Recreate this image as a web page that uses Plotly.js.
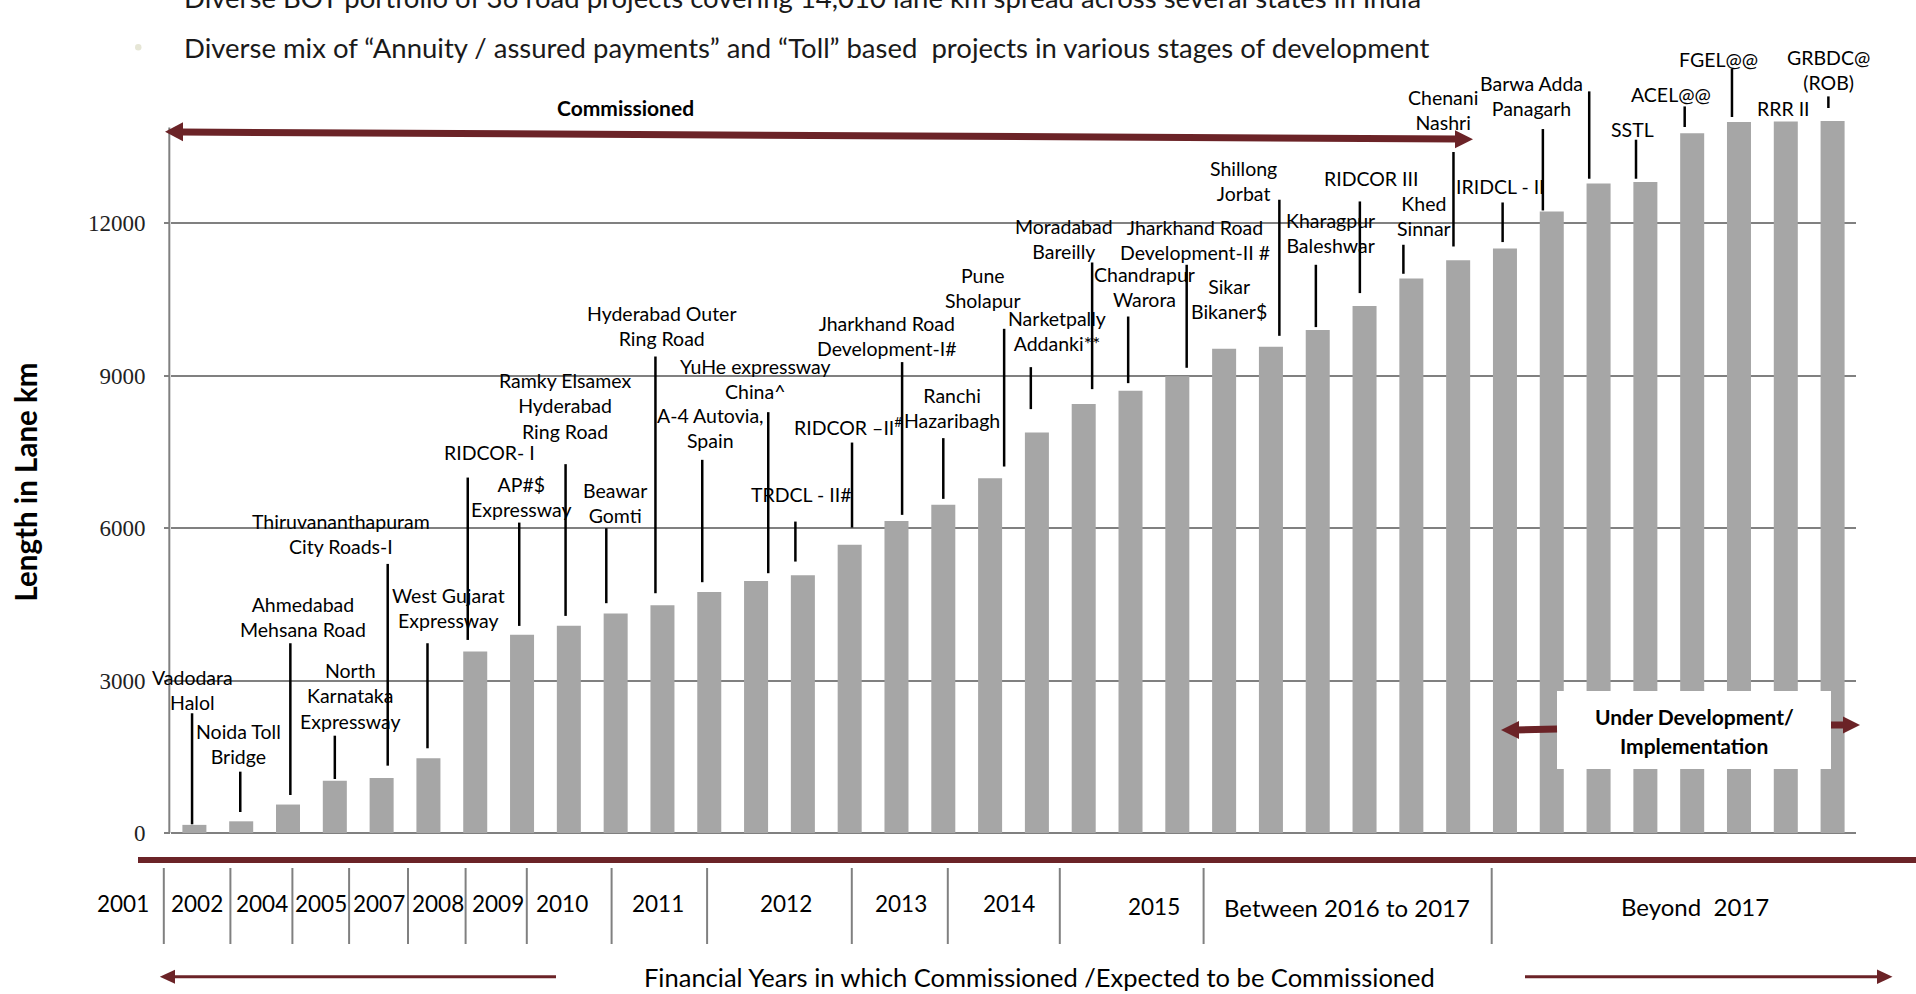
<!DOCTYPE html>
<html><head><meta charset="utf-8">
<script src="https://cdn.plot.ly/plotly-3.0.1.min.js"></script>
<style>html,body{margin:0;padding:0;background:#fff;overflow:hidden}#chart{width:1916px;height:994px}</style>
</head><body><div id="chart"></div>
<script>
// ---------------- DATA ----------------
const projects = [
  'Vadodara<br>Halol','Noida Toll<br>Bridge','Ahmedabad<br>Mehsana Road','North<br>Karnataka<br>Expressway',
  'Thiruvananthapuram<br>City Roads-I','West Gujarat<br>Expressway','RIDCOR- I','AP#$<br>Expressway',
  'Ramky Elsamex<br>Hyderabad<br>Ring Road','Beawar<br>Gomti','Hyderabad Outer<br>Ring Road','A-4 Autovia,<br>Spain',
  'YuHe expressway<br>China^','TRDCL - II#','RIDCOR –II<sup>#</sup>','Jharkhand Road<br>Development-I#',
  'Ranchi<br>Hazaribagh','Pune<br>Sholapur','Narketpally<br>Addanki**','Moradabad<br>Bareilly',
  'Chandrapur<br>Warora','Jharkhand Road<br>Development-II #','Sikar<br>Bikaner$','Shillong<br>Jorbat',
  'Kharagpur<br>Baleshwar','RIDCOR III','Khed<br>Sinnar','Chenani<br>Nashri',
  'IRIDCL - II','Barwa Adda<br>Panagarh','Kiratpur<br>Ner<br>Chowk','SSTL',
  'ACEL@@','FGEL@@','RRR II','GRBDC@<br>(ROB)'
];
const laneKm = [
  160, 230, 560, 1030, 1080, 1470, 3570, 3900, 4080, 4320, 4480, 4740,
  4960, 5070, 5670, 6140, 6460, 6980, 7880, 8440, 8700, 8990, 9530, 9570,
  9900, 10370, 10910, 11270, 11500, 12230, 12780, 12810, 13770, 13990, 14000, 14010
];
const yTicks = [0, 3000, 6000, 9000, 12000];
const yTickText = ['0', '3000', '6000', '9000', '12000'];
const yearLabels = ['2001','2002','2004','2005','2007','2008','2009','2010','2011','2012','2013','2014','2015','Between 2016 to 2017','Beyond\u00a0 2017'];

// ---------------- LAYOUT / PLACEMENT ----------------
// label centres (x in bar-index units, y in lane km)
const labelX = [-0.05,0.95,2.31,3.33,3.13,5.43,6.31,6.99,7.91,8.98,10.0,11.03,11.99,12.95,13.97,14.79,16.19,16.85,18.42,18.57,20.30,21.37,22.11,22.42,24.27,25.13,26.27,26.67,27.90,28.56,30.43,30.72,31.55,32.57,33.95,34.91];
const labelY = [2821,1748,4242,2703,5892,4433,7486,6610,8398,6498,9974,7965,8939,6654,7998,9778,8362,10728,9878,11697,10750,11667,10510,12830,11813,12888,12140,14232,12722,14494,15610,13839,14528,15217,14266,15014];
// leader lines: x, top, bottom (null = no leader)
const leadX   = [-0.05,0.98,2.05,3.00,4.13,4.98,5.84,6.94,7.93,8.80,9.85,10.85,12.26,12.84,14.05,15.12,16.00,17.30,17.87,19.18,19.95,21.20,null,23.18,23.96,24.90,25.83,26.90,27.95,28.81,29.80,30.80,31.84,32.85,null,34.91];
const leadTop = [2356,1207,3734,1915,5295,3734,6994,6108,7258,5998,9376,7343,8281,6128,7683,9266,7770,9921,9167,11226,10163,11181,null,12461,11181,12427,11575,13400,12407,13852,14593,13642,14297,15033,null,14494];
const leadBot = [171,413,748,1063,1325,1667,3799,4075,4272,4522,4718,4935,5112,5341,6010,6260,6575,7211,8341,8734,8852,9154,null,9783,9955,10624,11004,11541,11628,12250,12874,12874,13892,14089,null,14266];

// page-pixel placements of decorations
const yearX = [123,196.7,261.8,321.4,378.6,438.4,498.2,562,657.6,786.2,900.7,1009.4,1153.6,1346.5,1694.5];
const yearY = [903,903,903,903,903,903,903,903,903,903,903,903,906,907,906];
const yearSize = [22.5,22.5,22.5,22.5,22.5,22.5,22.5,22.5,22.5,22.5,22.5,22.5,22.5,24,24];
const sepX = [163.8,230.4,292.4,349.1,408,465.6,526.8,611.6,707.1,851.8,947.8,1059.8,1203.6,1491.7];

const M = {l:171, r:60, t:51, b:161};
const W = 1916, H = 994;
const PW = W - M.l - M.r, PH = H - M.t - M.b;
const PXPERKM = 0.05082;
const px = v => (v - M.l) / PW;
const py = v => (H - M.b - v) / PH;
const MAROON = '#6b2327';
const GRID = '#808080';
const LBL = {family:'Lato, "Open Sans", sans-serif', size:19.5, color:'#000'};

const trace = {
  type:'bar', x: projects, y: laneKm,
  marker:{color:'#a6a6a6', line:{width:0}},
  hoverinfo:'skip'
};

const annotations = [];
const shapes = [];

projects.forEach((p,i) => {
  annotations.push({x:labelX[i], y:labelY[i], xref:'x', yref:'y', text:p, showarrow:false,
    xanchor:'center', yanchor:'middle', align:'center', font:LBL});
  if (leadX[i] !== null) {
    shapes.push({type:'line', xref:'x', yref:'y', x0:leadX[i], x1:leadX[i], y0:leadBot[i], y1:leadTop[i],
      line:{color:'#000', width:2.5}});
  }
});

// y-axis line
shapes.push({type:'line', xref:'paper', yref:'y', x0:-0.001, x1:-0.001, y0:0, y1:13880, line:{color:GRID, width:2}, layer:'above'});

// thick maroon line under the axis
shapes.push({type:'line', xref:'paper', yref:'paper', x0:px(138), x1:px(1920), y0:py(860), y1:py(860), line:{color:MAROON, width:6}});
// year separators
sepX.forEach(s => shapes.push({type:'line', xref:'paper', yref:'paper', x0:px(s), x1:px(s), y0:py(868), y1:py(944), line:{color:GRID, width:2}}));

function tri(tipX, tipY, baseX, half) {
  return {type:'path', xref:'paper', yref:'paper', fillcolor:MAROON, line:{width:0},
    path:`M ${px(tipX)} ${py(tipY)} L ${px(baseX)} ${py(tipY-half)} L ${px(baseX)} ${py(tipY+half)} Z`};
}
function seg(x0,y0,x1,y1,w) {
  return {type:'line', xref:'paper', yref:'paper', x0:px(x0), y0:py(y0), x1:px(x1), y1:py(y1), line:{color:MAROON, width:w}};
}
// Commissioned arrow (top)
shapes.push(seg(180,132,1458,139,7));
shapes.push(tri(165,131.7,183,9.5));
shapes.push(tri(1473,139.3,1455,9));
// Under development box and arrows
shapes.push({type:'rect', xref:'paper', yref:'paper', x0:px(1557), x1:px(1831), y0:py(769), y1:py(691), fillcolor:'#fff', line:{width:0}});
shapes.push(seg(1516,730,1557,729,7));
shapes.push(tri(1501,730,1519,9));
shapes.push(seg(1831,725,1845,725,7));
shapes.push(tri(1860,725,1843,8.5));
// bottom arrows
shapes.push(seg(556,976.7,172,976.7,3));
shapes.push(tri(159.8,976.7,175,7));
shapes.push(seg(1525,976.7,1880,976.7,3));
shapes.push(tri(1892.5,976.7,1877,7.3));
// bullet
shapes.push({type:'circle', xref:'paper', yref:'paper', x0:px(135), x1:px(141.5), y0:py(44), y1:py(50.5), fillcolor:'#e6e6d6', line:{width:0}});

// year labels
yearLabels.forEach((t,i) => annotations.push({x:px(yearX[i]), y:py(yearY[i]), xref:'paper', yref:'paper', text:t, showarrow:false,
  xanchor:'center', yanchor:'middle', font:{family:'Lato, sans-serif', size:yearSize[i], color:'#000'}}));

// texts
const txt = (t,x,y,opt) => annotations.push(Object.assign({text:t, x:px(x), y:py(y), xref:'paper', yref:'paper', showarrow:false, xanchor:'center', yanchor:'middle'}, opt));
txt('Financial Years in which Commissioned /Expected to be Commissioned', 851*1.2219, 976.5, {font:{family:'Lato, sans-serif', size:25.5, color:'#000'}});
txt('<b>Commissioned</b>', 625, 108, {font:{family:'Lato, sans-serif', size:21, color:'#000'}});
txt('<b>Under Development/</b>', 1694, 716, {font:{family:'Lato, sans-serif', size:21, color:'#000'}});
txt('<b>Implementation</b>', 1694, 745, {font:{family:'Lato, sans-serif', size:21, color:'#000'}});
txt('<b>Length in Lane km</b>', 24.5, 482, {textangle:-90, font:{family:'Lato, sans-serif', size:29.5, color:'#000'}});
txt('Diverse BOT portfolio of 36 road projects covering 14,010 lane km spread across several states in India', 182, -2.5, {xanchor:'left', font:{family:'Lato, sans-serif', size:27.5, color:'#1a1a1a'}});
txt('Diverse mix of “Annuity / assured payments” and “Toll” based\u00a0 projects in various stages of development', 182, 47.5, {xanchor:'left', font:{family:'Lato, sans-serif', size:27.5, color:'#1a1a1a'}});

const layout = {
  width:W, height:H, margin:M, paper_bgcolor:'#fff', plot_bgcolor:'#fff',
  showlegend:false, bargap:0.487,
  xaxis:{type:'category', range:[-0.5,35.5], showticklabels:false, showgrid:false, zeroline:false, showline:false, ticks:''},
  yaxis:{range:[0, PH/PXPERKM], tickmode:'array', tickvals:yTicks, ticktext:yTickText, showgrid:true, gridcolor:GRID, gridwidth:2,
    zeroline:true, zerolinecolor:GRID, zerolinewidth:2, showline:false,
    ticks:'outside', ticklen:6, tickwidth:2, tickcolor:GRID, ticklabelstandoff:14,
    tickfont:{family:'"Liberation Serif", "Times New Roman", serif', size:23, color:'#222'}},
  annotations, shapes
};
Plotly.newPlot('chart', [trace], layout, {displayModeBar:false, staticPlot:true});
</script></body></html>
